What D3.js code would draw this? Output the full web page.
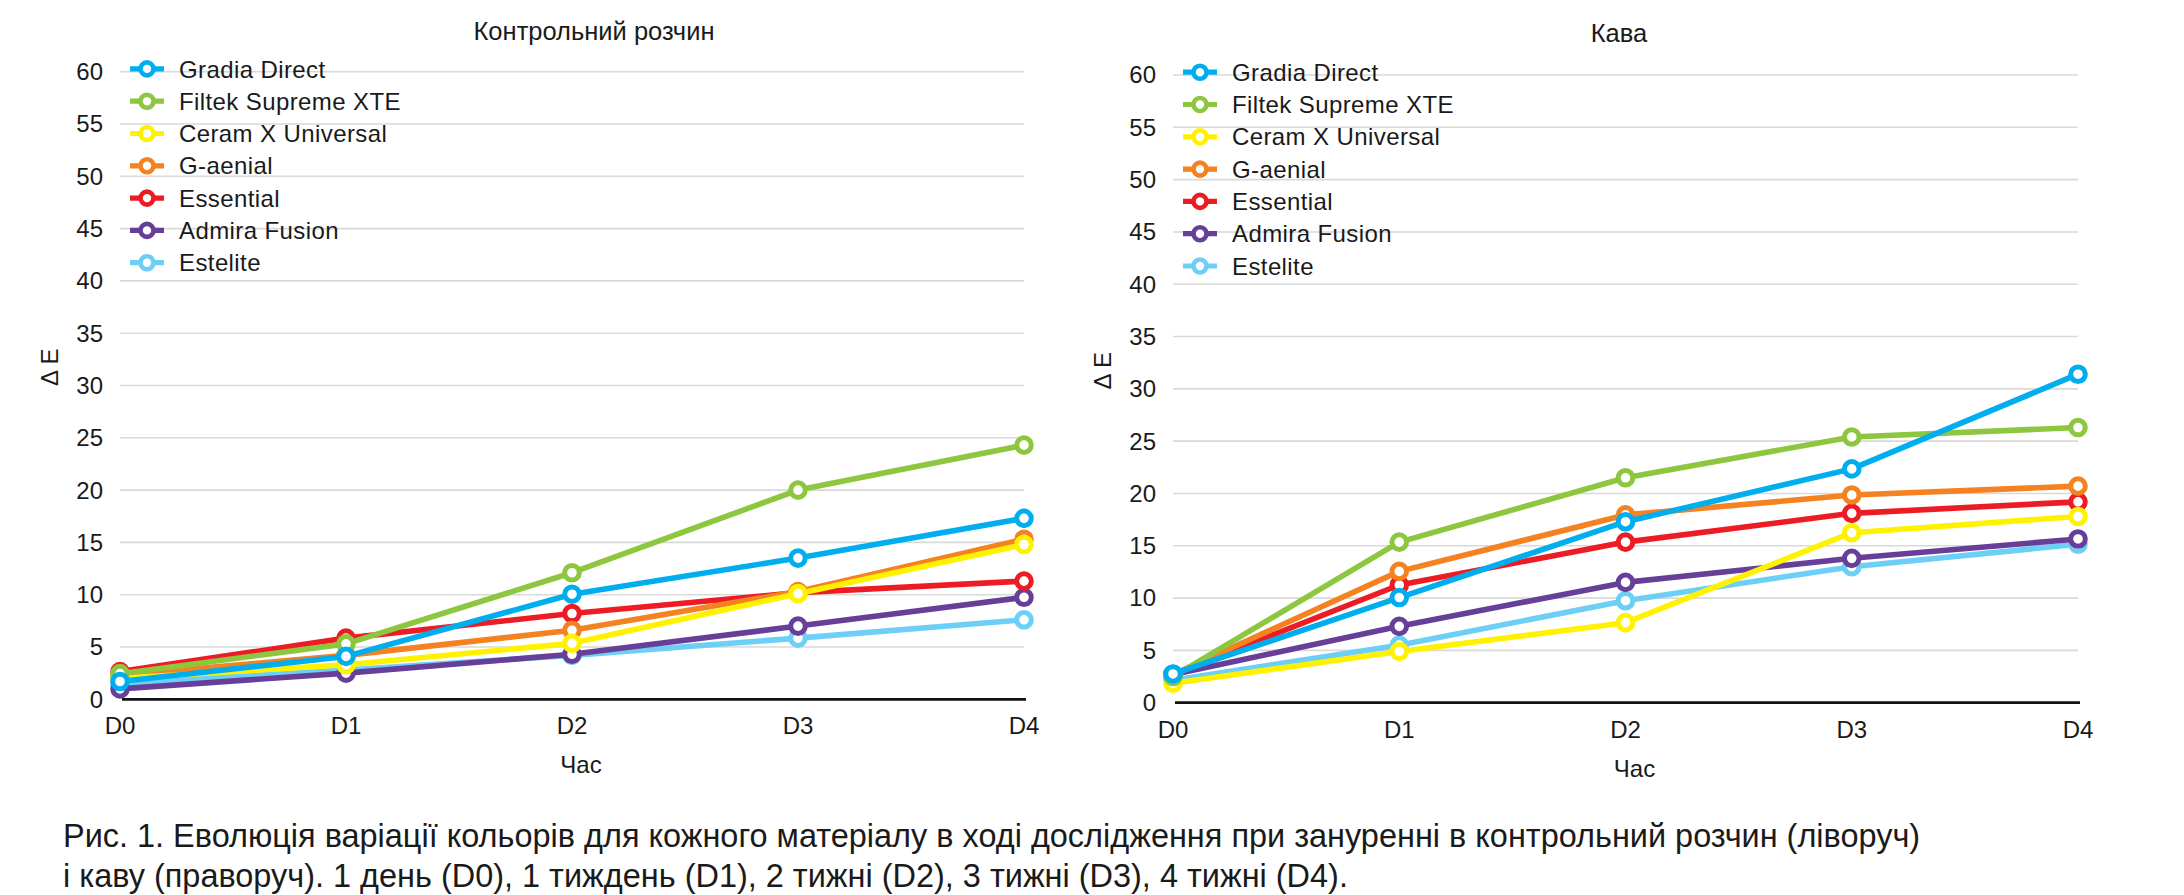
<!DOCTYPE html>
<html>
<head>
<meta charset="utf-8">
<script src="https://cdn.jsdelivr.net/npm/d3@7"></script>
<style>
  body { margin: 0; background: #fff; }
  svg { display: block; font-family: "Liberation Sans", Arial, Helvetica, sans-serif; }
</style>
</head>
<body>
<svg id="fig" width="2184" height="895"></svg>
<script>
// time points and materials
var days = ["D0", "D1", "D2", "D3", "D4"];
var materials = ["Gradia Direct", "Filtek Supreme XTE", "Ceram X Universal", "G-aenial", "Essential", "Admira Fusion", "Estelite"];
var yTicks = [0, 5, 10, 15, 20, 25, 30, 35, 40, 45, 50, 55, 60];

// ΔE, control solution (same order as materials)
var controlSolution = [
  [1.7, 4.1, 10.05, 13.5, 17.3],
  [2.45, 5.3, 12.1, 20.0, 24.3],
  [2.0, 3.3, 5.35, 10.1, 14.8],
  [2.3, 4.2, 6.6, 10.3, 15.3],
  [2.65, 5.85, 8.2, 10.2, 11.3],
  [1.0, 2.5, 4.3, 7.0, 9.75],
  [1.5, 2.8, 4.2, 5.85, 7.6]
];

// ΔE, coffee
var coffee = [
  [2.75, 10.05, 17.3, 22.35, 31.4],
  [2.5, 15.35, 21.5, 25.4, 26.3],
  [1.85, 4.9, 7.65, 16.25, 17.8],
  [2.7, 12.55, 17.95, 19.85, 20.7],
  [2.7, 11.25, 15.35, 18.1, 19.2],
  [2.7, 7.3, 11.5, 13.8, 15.65],
  [2.15, 5.5, 9.75, 13.0, 15.15]
];

var color = d3.scaleOrdinal()
  .domain(materials)
  .range(["#00aeef", "#8dc63f", "#fff200", "#f58220", "#ed1c24", "#673f98", "#6dcff6"]);

var svg = d3.select("#fig");

function drawChart(title, values, o) {
  var g = svg.append("g");
  var x = d3.scalePoint().domain(days).range([o.x0, o.x1]);
  var y = d3.scaleLinear().domain([0, 60]).range([o.yb, o.yt]);

  // gridlines
  g.append("g").selectAll("line")
    .data(yTicks.filter(function (d) { return d > 0; }))
    .enter().append("line")
    .attr("x1", o.x0).attr("x2", o.x1)
    .attr("y1", function (d) { return y(d); })
    .attr("y2", function (d) { return y(d); })
    .attr("stroke", "#d9d9d9").attr("stroke-width", 1.6);

  // y tick labels
  g.append("g").selectAll("text")
    .data(yTicks)
    .enter().append("text")
    .attr("x", o.x0 - 17)
    .attr("y", function (d) { return y(d); })
    .attr("dy", "0.35em")
    .attr("text-anchor", "end")
    .attr("font-size", 24)
    .attr("fill", "#1a1a1a")
    .text(function (d) { return d; });

  // x axis line
  g.append("line")
    .attr("x1", o.x0 + 2).attr("x2", o.x1 + 2)
    .attr("y1", y(0)).attr("y2", y(0))
    .attr("stroke", "#111").attr("stroke-width", 2.8);

  // x tick labels
  g.append("g").selectAll("text")
    .data(days)
    .enter().append("text")
    .attr("x", function (d) { return x(d); })
    .attr("y", y(0) + 35)
    .attr("text-anchor", "middle")
    .attr("font-size", 24)
    .attr("fill", "#1a1a1a")
    .text(function (d) { return d; });

  // axis titles
  g.append("text")
    .attr("x", (o.x0 + o.x1) / 2 + 9)
    .attr("y", y(0) + 74)
    .attr("text-anchor", "middle")
    .attr("font-size", 24)
    .attr("fill", "#1a1a1a")
    .text("Час");

  g.append("text")
    .attr("transform", "translate(" + (o.x0 - 62) + "," + (y(0) - 332) + ") rotate(-90)")
    .attr("text-anchor", "middle")
    .attr("font-size", 24)
    .attr("fill", "#1a1a1a")
    .text("Δ E");

  g.append("text")
    .attr("x", o.titleX)
    .attr("y", o.titleY)
    .attr("text-anchor", "middle")
    .attr("font-size", 25.5)
    .attr("fill", "#1a1a1a")
    .text(title);

  // series, last one drawn first so Gradia ends on top
  var line = d3.line()
    .x(function (d, i) { return x(days[i]); })
    .y(function (d) { return y(d); });

  var order = d3.range(materials.length).reverse();
  order.forEach(function (k) {
    var s = g.append("g");
    s.append("path")
      .datum(values[k])
      .attr("d", line)
      .attr("fill", "none")
      .attr("stroke", color(materials[k]))
      .attr("stroke-width", 5.6)
      .attr("stroke-linejoin", "round");
    s.selectAll("circle")
      .data(values[k])
      .enter().append("circle")
      .attr("cx", function (d, i) { return x(days[i]); })
      .attr("cy", function (d) { return y(d); })
      .attr("r", 7.3)
      .attr("fill", "#fff")
      .attr("stroke", color(materials[k]))
      .attr("stroke-width", 5);
  });

  // legend
  var leg = g.append("g").selectAll("g")
    .data(materials)
    .enter().append("g")
    .attr("transform", function (d, i) {
      return "translate(" + (o.x0 + 27) + "," + (o.yt - 2.8 + i * 32.3) + ")";
    });
  leg.append("line")
    .attr("x1", -17).attr("x2", 17)
    .attr("stroke", function (d) { return color(d); })
    .attr("stroke-width", 5.2);
  leg.append("circle")
    .attr("r", 6.5)
    .attr("fill", "#fff")
    .attr("stroke", function (d) { return color(d); })
    .attr("stroke-width", 4.6);
  leg.append("text")
    .attr("x", 32)
    .attr("dy", "0.36em")
    .attr("font-size", 24)
    .attr("letter-spacing", 0.4)
    .attr("fill", "#1a1a1a")
    .text(function (d) { return d; });
}

drawChart("Контрольний розчин", controlSolution,
  { x0: 120, x1: 1024, yt: 71.7, yb: 699.3, titleX: 594, titleY: 40 });
drawChart("Кава", coffee,
  { x0: 1173, x1: 2078, yt: 75, yb: 702.7, titleX: 1619, titleY: 42 });

// caption
var caption = [
  "Рис. 1. Еволюція варіації кольорів для кожного матеріалу в ході дослідження при зануренні в контрольний розчин (ліворуч)",
  "і каву (праворуч). 1 день (D0), 1 тиждень (D1), 2 тижні (D2), 3 тижні (D3), 4 тижні (D4)."
];
var cap = svg.append("g").selectAll("text")
  .data(caption)
  .enter().append("text")
  .attr("x", 63)
  .attr("y", function (d, i) { return 847 + i * 40; })
  .attr("font-size", 30)
  .attr("fill", "#1a1a1a")
  .text(function (d) { return d; });
// scale the caption font so line one spans the same width as the figure
var w = cap.nodes()[0].getComputedTextLength();
cap.attr("font-size", 30 * 1858 / w);
</script>
</body>
</html>
